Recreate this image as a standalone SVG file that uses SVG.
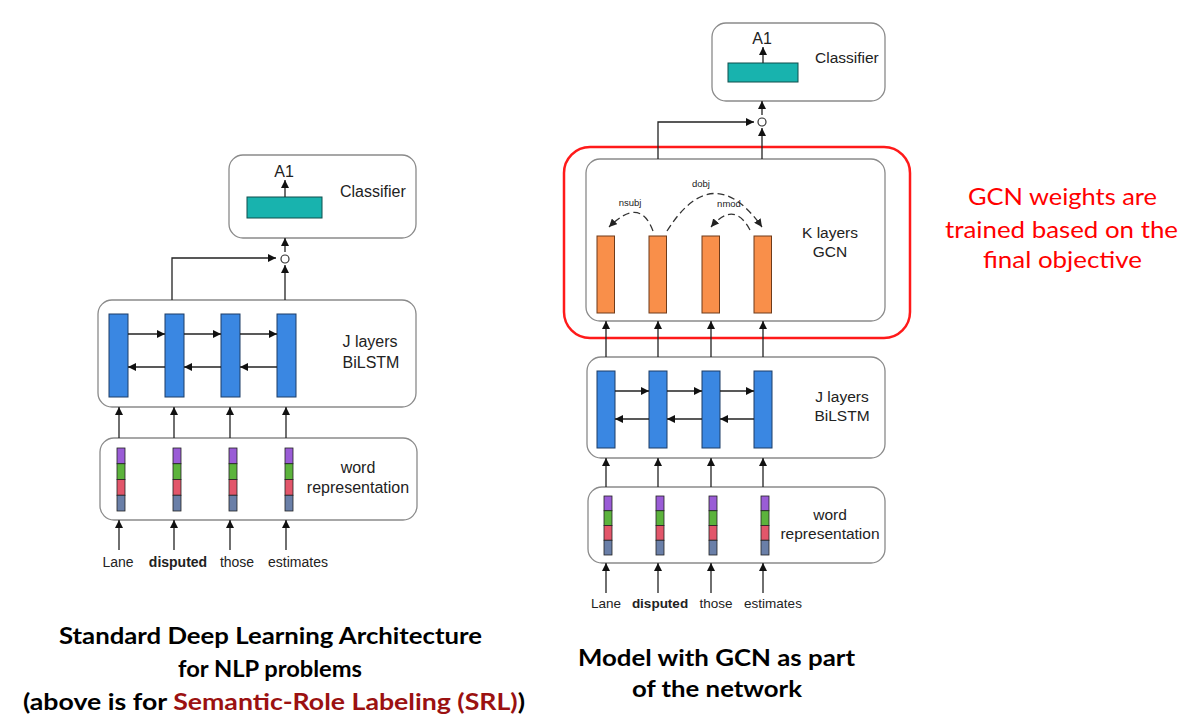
<svg xmlns="http://www.w3.org/2000/svg" width="1187" height="717" viewBox="0 0 1187 717">
<defs>
<marker id="ah" viewBox="0 0 10 10" refX="10" refY="5" markerWidth="8" markerHeight="8" markerUnits="userSpaceOnUse" orient="auto"><path d="M0,0 L10,5 L0,10 z" fill="#111"/></marker>
<marker id="ahs" viewBox="0 0 10 10" refX="10" refY="5" markerWidth="8" markerHeight="8" markerUnits="userSpaceOnUse" orient="auto"><path d="M0,0 L10,5 L0,10 z" fill="#222"/></marker>
<style>
.box{fill:#fff;stroke:#8a8a8a;stroke-width:1.3}
.blue{fill:#3a87e2;stroke:#1d3d66;stroke-width:1}
.teal{fill:#18b3ae;stroke:#0f4f4d;stroke-width:1}
.orange{fill:#f98f4a;stroke:#6e3b1a;stroke-width:1}
.pu{fill:#9a5cd6;stroke:#222;stroke-width:0.8}
.gr{fill:#5cb33c;stroke:#222;stroke-width:0.8}
.rd{fill:#e2566a;stroke:#222;stroke-width:0.8}
.sl{fill:#6a7fa8;stroke:#222;stroke-width:0.8}
.ar{stroke:#222;stroke-width:1.3;fill:none;marker-end:url(#ah)}
.dash{stroke:#333;stroke-width:1.3;fill:none;stroke-dasharray:7 4;marker-end:url(#ahs)}
.t{font-family:"Liberation Sans",Arial,sans-serif;fill:#222}
.lbl{font-size:16px}
.w{font-size:14px}
.dep{font-size:9.5px;text-anchor:middle}
.ttl{font-family:Lato,"Open Sans",sans-serif;font-weight:bold;font-size:23px;fill:#000}
.red{font-family:Lato,"Open Sans",sans-serif;font-size:23px;fill:#ff0000}
</style>
</defs>
<rect width="1187" height="717" fill="#fff"/>

<!-- LEFT DIAGRAM -->
<g id="L-classifier">
<rect class="box" x="229" y="155" width="187" height="83" rx="14"/>
<rect class="teal" x="247" y="197" width="75" height="21"/>
<text class="t lbl" x="284" y="177" text-anchor="middle">A1</text>
<text class="t lbl" x="340" y="197">Classifier</text>
</g>
<g id="L-combine"><circle cx="285" cy="259" r="4" fill="#fff" stroke="#333" stroke-width="1.2"/></g>
<g id="L-bilstm">
<rect class="box" x="98" y="300" width="318" height="107" rx="14"/>
<rect class="blue" x="109" y="314" width="19" height="83"/>
<rect class="blue" x="165" y="314" width="19" height="83"/>
<rect class="blue" x="221" y="314" width="19" height="83"/>
<rect class="blue" x="277" y="314" width="19" height="83"/>
<text class="t lbl" x="370" y="347" text-anchor="middle">J layers</text>
<text class="t lbl" x="371" y="368" text-anchor="middle">BiLSTM</text>
</g>
<g id="L-wordrep">
<rect class="box" x="100" y="438" width="317" height="82" rx="14"/>
<g transform="translate(117,0)"><rect class="pu" x="0" y="448" width="8" height="15.75"/><rect class="gr" x="0" y="463.75" width="8" height="15.75"/><rect class="rd" x="0" y="479.5" width="8" height="15.75"/><rect class="sl" x="0" y="495.25" width="8" height="15.75"/></g>
<g transform="translate(173,0)"><rect class="pu" x="0" y="448" width="8" height="15.75"/><rect class="gr" x="0" y="463.75" width="8" height="15.75"/><rect class="rd" x="0" y="479.5" width="8" height="15.75"/><rect class="sl" x="0" y="495.25" width="8" height="15.75"/></g>
<g transform="translate(229,0)"><rect class="pu" x="0" y="448" width="8" height="15.75"/><rect class="gr" x="0" y="463.75" width="8" height="15.75"/><rect class="rd" x="0" y="479.5" width="8" height="15.75"/><rect class="sl" x="0" y="495.25" width="8" height="15.75"/></g>
<g transform="translate(285,0)"><rect class="pu" x="0" y="448" width="8" height="15.75"/><rect class="gr" x="0" y="463.75" width="8" height="15.75"/><rect class="rd" x="0" y="479.5" width="8" height="15.75"/><rect class="sl" x="0" y="495.25" width="8" height="15.75"/></g>
<text class="t lbl" x="358" y="473" text-anchor="middle">word</text>
<text class="t lbl" x="358" y="493" text-anchor="middle">representation</text>
</g>
<g id="L-words">
<text class="t w" x="118" y="567" text-anchor="middle">Lane</text>
<text class="t w" x="178" y="567" text-anchor="middle" font-weight="bold">disputed</text>
<text class="t w" x="237" y="567" text-anchor="middle">those</text>
<text class="t w" x="298" y="567" text-anchor="middle">estimates</text>
</g>

<!-- RIGHT DIAGRAM -->
<g id="R-classifier">
<rect class="box" x="712" y="23" width="173" height="78" rx="14"/>
<rect class="teal" x="728" y="63" width="70" height="19"/>
<text class="t lbl" x="762" y="44" text-anchor="middle">A1</text>
<text class="t" x="815" y="63" font-size="15.5">Classifier</text>
</g>
<g id="R-combine"><circle cx="762" cy="122" r="4" fill="#fff" stroke="#333" stroke-width="1.2"/></g>
<g id="R-gcn">
<rect class="box" x="586" y="159" width="299" height="162" rx="14"/>
<rect class="orange" x="597" y="236" width="17.5" height="77"/>
<rect class="orange" x="649" y="236" width="17.5" height="77"/>
<rect class="orange" x="702" y="236" width="17.5" height="77"/>
<rect class="orange" x="754" y="236" width="17.5" height="77"/>
<text class="t" x="830" y="238" font-size="15.5" text-anchor="middle">K layers</text>
<text class="t" x="830" y="257" font-size="15.5" text-anchor="middle">GCN</text>
<text class="t dep" x="630" y="206">nsubj</text>
<text class="t dep" x="701" y="187">dobj</text>
<text class="t dep" x="729" y="207">nmod</text>
</g>
<g id="R-highlight"><rect x="564" y="147" width="346" height="191" rx="26" fill="none" stroke="#ff1a1a" stroke-width="2.5"/></g>
<g id="R-bilstm">
<rect class="box" x="587" y="357" width="298" height="101" rx="14"/>
<rect class="blue" x="597" y="371" width="18" height="77"/>
<rect class="blue" x="649" y="371" width="18" height="77"/>
<rect class="blue" x="702" y="371" width="18" height="77"/>
<rect class="blue" x="754" y="371" width="18" height="77"/>
<text class="t" x="842" y="402" font-size="15.5" text-anchor="middle">J layers</text>
<text class="t" x="842" y="421" font-size="15.5" text-anchor="middle">BiLSTM</text>
</g>
<g id="R-wordrep">
<rect class="box" x="588" y="487" width="297" height="76" rx="14"/>
<g transform="translate(604,0)"><rect class="pu" x="0" y="496" width="8" height="14.75"/><rect class="gr" x="0" y="510.75" width="8" height="14.75"/><rect class="rd" x="0" y="525.5" width="8" height="14.75"/><rect class="sl" x="0" y="540.25" width="8" height="14.75"/></g>
<g transform="translate(656,0)"><rect class="pu" x="0" y="496" width="8" height="14.75"/><rect class="gr" x="0" y="510.75" width="8" height="14.75"/><rect class="rd" x="0" y="525.5" width="8" height="14.75"/><rect class="sl" x="0" y="540.25" width="8" height="14.75"/></g>
<g transform="translate(709,0)"><rect class="pu" x="0" y="496" width="8" height="14.75"/><rect class="gr" x="0" y="510.75" width="8" height="14.75"/><rect class="rd" x="0" y="525.5" width="8" height="14.75"/><rect class="sl" x="0" y="540.25" width="8" height="14.75"/></g>
<g transform="translate(761,0)"><rect class="pu" x="0" y="496" width="8" height="14.75"/><rect class="gr" x="0" y="510.75" width="8" height="14.75"/><rect class="rd" x="0" y="525.5" width="8" height="14.75"/><rect class="sl" x="0" y="540.25" width="8" height="14.75"/></g>
<text class="t" x="830" y="520" font-size="15.5" text-anchor="middle">word</text>
<text class="t" x="830" y="539" font-size="15.5" text-anchor="middle">representation</text>
</g>
<g id="R-words">
<text class="t" font-size="13.5" x="606" y="608" text-anchor="middle">Lane</text>
<text class="t" font-size="13.5" x="660" y="608" text-anchor="middle" font-weight="bold">disputed</text>
<text class="t" font-size="13.5" x="716" y="608" text-anchor="middle">those</text>
<text class="t" font-size="13.5" x="773" y="608" text-anchor="middle">estimates</text>
</g>

<!-- CONNECTORS -->
<g id="connectors">
<!-- left -->
<line class="ar" x1="285" y1="197" x2="285" y2="180"/>
<line class="ar" x1="285" y1="252" x2="285" y2="238"/>
<line class="ar" x1="285" y1="300" x2="285" y2="265"/>
<path class="ar" d="M172,300 V258 H276"/>
<line class="ar" x1="128" y1="334" x2="165" y2="334"/>
<line class="ar" x1="184" y1="334" x2="221" y2="334"/>
<line class="ar" x1="240" y1="334" x2="277" y2="334"/>
<line class="ar" x1="165" y1="367" x2="128" y2="367"/>
<line class="ar" x1="221" y1="367" x2="184" y2="367"/>
<line class="ar" x1="277" y1="367" x2="240" y2="367"/>
<line class="ar" x1="119" y1="438" x2="119" y2="407"/>
<line class="ar" x1="174" y1="438" x2="174" y2="407"/>
<line class="ar" x1="230" y1="438" x2="230" y2="407"/>
<line class="ar" x1="286" y1="438" x2="286" y2="407"/>
<line class="ar" x1="119" y1="550" x2="119" y2="520"/>
<line class="ar" x1="174" y1="550" x2="174" y2="520"/>
<line class="ar" x1="230" y1="550" x2="230" y2="520"/>
<line class="ar" x1="286" y1="550" x2="286" y2="520"/>
<!-- right -->
<line class="ar" x1="763" y1="63" x2="763" y2="47"/>
<line class="ar" x1="762" y1="115" x2="762" y2="101"/>
<line class="ar" x1="762" y1="159" x2="762" y2="128"/>
<path class="ar" d="M658,159 V122 H754"/>
<path class="dash" d="M653,231 Q640,196 609,227"/>
<path class="dash" d="M667,231 Q713,158 762,227"/>
<path class="dash" d="M750,230 Q734,200 711,227"/>
<line class="ar" x1="606" y1="357" x2="606" y2="321"/>
<line class="ar" x1="658" y1="357" x2="658" y2="321"/>
<line class="ar" x1="711" y1="357" x2="711" y2="321"/>
<line class="ar" x1="763" y1="357" x2="763" y2="321"/>
<line class="ar" x1="615" y1="391" x2="649" y2="391"/>
<line class="ar" x1="667" y1="391" x2="702" y2="391"/>
<line class="ar" x1="720" y1="391" x2="754" y2="391"/>
<line class="ar" x1="649" y1="419" x2="615" y2="419"/>
<line class="ar" x1="702" y1="419" x2="667" y2="419"/>
<line class="ar" x1="754" y1="419" x2="720" y2="419"/>
<line class="ar" x1="606" y1="487" x2="606" y2="458"/>
<line class="ar" x1="658" y1="487" x2="658" y2="458"/>
<line class="ar" x1="711" y1="487" x2="711" y2="458"/>
<line class="ar" x1="763" y1="487" x2="763" y2="458"/>
<line class="ar" x1="606" y1="593" x2="606" y2="563"/>
<line class="ar" x1="658" y1="593" x2="658" y2="563"/>
<line class="ar" x1="711" y1="593" x2="711" y2="563"/>
<line class="ar" x1="763" y1="593" x2="763" y2="563"/>
</g>

<!-- CAPTIONS -->
<g id="captions">
<text class="ttl" x="59" y="644" textLength="423" lengthAdjust="spacingAndGlyphs">Standard Deep Learning Architecture</text>
<text class="ttl" x="178" y="677" textLength="184" lengthAdjust="spacingAndGlyphs">for NLP problems</text>
<text class="ttl" x="23" y="710" textLength="502" lengthAdjust="spacingAndGlyphs">(above is for <tspan fill="#9b1111">Semantic-Role Labeling (SRL)</tspan>)</text>
<text class="ttl" x="578" y="666" textLength="277" lengthAdjust="spacingAndGlyphs">Model with GCN as part</text>
<text class="ttl" x="632" y="697" textLength="170" lengthAdjust="spacingAndGlyphs">of the network</text>
<text class="red" x="968" y="205" textLength="189" lengthAdjust="spacingAndGlyphs">GCN weights are</text>
<text class="red" x="945" y="238" textLength="233" lengthAdjust="spacingAndGlyphs">trained based on the</text>
<text class="red" x="983" y="268" textLength="159" lengthAdjust="spacingAndGlyphs">final objective</text>
</g>
</svg>
